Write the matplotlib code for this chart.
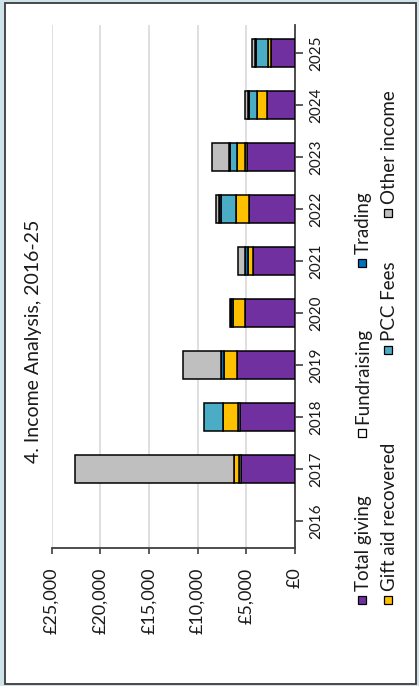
import matplotlib.pyplot as plt
from matplotlib.patches import Rectangle
import numpy as np

plt.rcParams['font.family'] = ['Lato', 'DejaVu Sans']

# data (GBP)
years = ['2016', '2017', '2018', '2019', '2020', '2021', '2022', '2023', '2024', '2025']
total_giving = [0, 5500, 5650, 6000, 5150, 4300, 4700, 4900, 2900, 2500]
fundraising = [0, 250, 250, 0, 0, 0, 0, 200, 0, 0]
gift_aid = [0, 550, 1450, 1300, 1200, 550, 1350, 900, 1000, 300]
pcc_fees = [0, 0, 2000, 0, 0, 0, 1600, 650, 800, 1200]
trading = [0, 0, 0, 300, 200, 300, 150, 150, 150, 150]
other_income = [0, 16300, 0, 3900, 150, 750, 300, 1750, 250, 300]

# stacking order (from zero outwards)
series = [
    ('Total giving', total_giving, '#7030a0'),
    ('Fundraising', fundraising, '#ffffff'),
    ('Gift aid recovered', gift_aid, '#ffc000'),
    ('PCC Fees', pcc_fees, '#4bacc6'),
    ('Trading', trading, '#0070c0'),
    ('Other income', other_income, '#bfbfbf'),
]
colors = {name: c for name, _, c in series}

W, H = 419, 686
fig = plt.figure(figsize=(W / 100, H / 100), dpi=100)
fig.patch.set_facecolor('#cfe3ea')
fig.add_artist(Rectangle((4.5 / W, 1 - 683.5 / H), 411.5 / W, 681 / H,
                         transform=fig.transFigure, facecolor='white',
                         edgecolor='#3a3a3a', linewidth=1.3, zorder=0))

ax = fig.add_axes([51.7 / W, 1 - 548 / H, (295 - 51.7) / W, (548 - 25) / H])
ax.patch.set_alpha(0)

pos = np.arange(len(years))
left = np.zeros(len(years))
for name, vals, color in series:
    vals = np.array(vals, dtype=float)
    ax.barh(pos, vals, left=left, height=0.54, color=color, edgecolor='black',
            linewidth=np.where(vals > 0, 1.1, 0.0), zorder=3)
    left += vals

ax.set_xlim(25000, 0)
ax.set_ylim(-0.52, 9.54)
ax.set_xticks(range(0, 25001, 5000))
ax.set_xticklabels(['£{:,}'.format(v) for v in range(0, 25001, 5000)])
ax.tick_params(axis='x', rotation=90, labelsize=13, length=4, width=1.2,
               color='#404040', pad=10, labelcolor='#1a1a1a')
ax.grid(axis='x', color='#dcdcdc', linewidth=1.3, zorder=0)
ax.set_axisbelow(True)

ax.yaxis.tick_right()
ax.set_yticks(pos)
ax.set_yticklabels(years, rotation=90, va='center', fontsize=11, color='#1a1a1a')
ax.tick_params(axis='y', length=6, width=1.2, color='#404040', pad=4)

for s in ['left', 'top']:
    ax.spines[s].set_visible(False)
for s in ['right', 'bottom']:
    ax.spines[s].set_color('#404040')
    ax.spines[s].set_linewidth(1.3)

fig.text(34 / W, 1 - 341 / H, '4. Income Analysis, 2016-25', rotation=90,
         ha='center', va='center', fontsize=14, color='#1a1a1a')

# legend, drawn by hand because it is rotated
legend_items = [
    ('Total giving', 362, 600), ('Fundraising', 362, 433), ('Trading', 362, 263),
    ('Gift aid recovered', 388, 600), ('PCC Fees', 388, 350), ('Other income', 388, 213),
]
box = 8
for name, x, y in legend_items:
    fig.add_artist(Rectangle(((x - box / 2) / W, 1 - (y + box / 2) / H), box / W, box / H,
                             transform=fig.transFigure, facecolor=colors[name],
                             edgecolor='black', linewidth=0.9))
    fig.text((x + 1) / W, 1 - (y - 9) / H, name, rotation=90, rotation_mode='anchor',
             ha='left', va='center', fontsize=13.5, color='#1a1a1a')

fig.savefig('out.png', dpi=100, facecolor=fig.get_facecolor())
